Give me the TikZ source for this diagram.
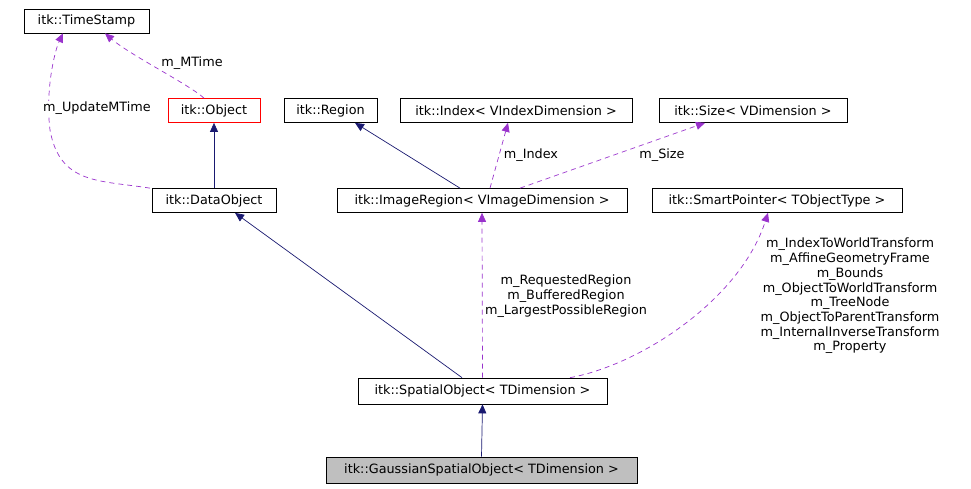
\documentclass[tikz,border=0pt]{standalone}
\usepackage{fontspec}
\setmainfont{DejaVu Sans}
\usetikzlibrary{arrows.meta}
\begin{document}
\begin{tikzpicture}[x=1pt,y=-1pt,font=\fontsize{12.8}{14.7}\selectfont,
  box/.style={draw=black,fill=white,inner sep=0pt,minimum height=24pt,line width=0.7pt},
  inh/.style={draw={rgb,255:red,25;green,25;blue,112},-{Triangle[length=9pt,width=8pt]},line width=0.7pt},
  use/.style={draw={rgb,255:red,153;green,50;blue,204},dashed,dash pattern=on 5pt off 4pt,-{Triangle[length=9pt,width=8pt]},line width=0.7pt},
  lab/.style={align=center,inner sep=1pt}]
\useasboundingbox (0,0) rectangle (971,488);
\node[box,minimum width=125pt] (ts) at (86.5,21) {itk::TimeStamp};
\node[box,minimum width=92pt,draw=red] (obj) at (214,110.5) {itk::Object};
\node[box,minimum width=93pt] (reg) at (330.5,110.5) {itk::Region};
\node[box,minimum width=232pt] (idx) at (516,110.5) {itk::Index< VIndexDimension >};
\node[box,minimum width=188pt] (sz) at (753,110.5) {itk::Size< VDimension >};
\node[box,minimum width=124pt] (dobj) at (214,200.5) {itk::DataObject};
\node[box,minimum width=290pt] (ir) at (482,200.5) {itk::ImageRegion< VImageDimension >};
\node[box,minimum width=250pt] (sp) at (777,200.5) {itk::SmartPointer< TObjectType >};
\node[box,minimum width=249pt,minimum height=26pt] (so) at (482.5,391) {itk::SpatialObject< TDimension >};
\node[box,minimum width=311pt,minimum height=26pt,fill={rgb,255:red,191;green,191;blue,191}] (gso) at (481.5,470) {itk::GaussianSpatialObject< TDimension >};

\draw[inh] (dobj.north) -- (obj.south);
\draw[inh] (ir.north -| 460,0) -- (reg.south -| 355,0);
\draw[use] (ir.north -| 490,0) -- (idx.south -| 508,0);
\node[lab] at (531,155) {m\_Index};
\draw[use] (ir.north -| 520,0) -- (sz.south -| 705,0);
\node[lab] at (662,155) {m\_Size};
\draw[use] (obj.north -| 204,0) .. controls (190,85) and (130,55) .. (ts.south -| 105,0);
\node[lab] at (192,63) {m\_MTime};
\draw[use] (dobj.north west -| 150,0) .. controls (100,180) and (60,185) .. (50,130) .. controls (45,90) and (55,50) .. (ts.south -| 63,0);
\node[lab,fill=white] at (97,108) {m\_UpdateMTime};
\draw[inh] (so.north -| 462,0) -- (dobj.south -| 235,0);
\draw[use] (so.north) -- (ir.south);
\node[lab] at (566,296) {m\_RequestedRegion\\m\_BufferedRegion\\m\_LargestPossibleRegion};
\draw[use] (so.north -| 570,0) .. controls (640,365) and (740,300) .. (sp.south -| 768,0);
\node[lab] at (850,296) {m\_IndexToWorldTransform\\m\_AffineGeometryFrame\\m\_Bounds\\m\_ObjectToWorldTransform\\m\_TreeNode\\m\_ObjectToParentTransform\\m\_InternalInverseTransform\\m\_Property};
\draw[inh] (gso.north) -- (so.south);
\end{tikzpicture}
\end{document}
